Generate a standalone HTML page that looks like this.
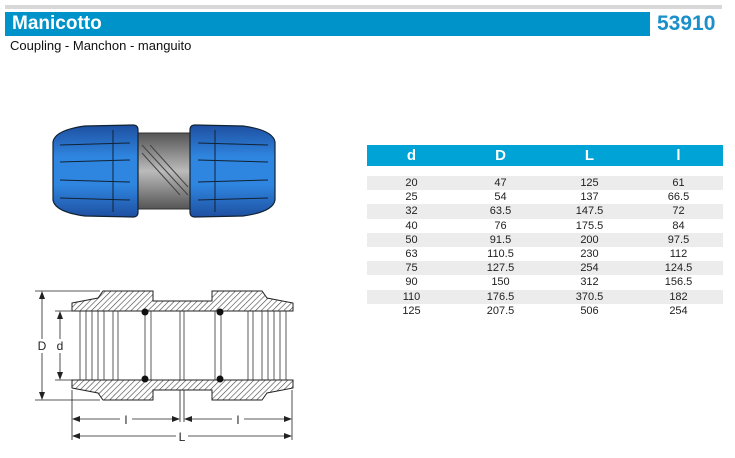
<!DOCTYPE html>
<html><head><style>
body{margin:0;width:735px;height:458px;background:#fff;font-family:"Liberation Sans",sans-serif;position:relative;overflow:hidden}
.a{position:absolute}
table{border-collapse:collapse;font-size:11px;color:#222}
td{width:89px;text-align:center;height:14.2px;padding:0;line-height:14px}
tr.g td{background:#ececec}
</style></head><body>
<div class="a" style="left:5px;top:5px;width:717px;height:4px;background:#d8d8d8"></div>
<div class="a" style="left:5px;top:12px;width:645px;height:24px;background:#0093c9"></div>
<div class="a" style="left:12px;top:13px;color:#fff;font-weight:bold;font-size:19px">Manicotto</div>
<div class="a" style="left:657px;top:12px;color:#1a8fc9;font-weight:bold;font-size:21px">53910</div>
<div class="a" style="left:10px;top:38px;font-size:13px;color:#111">Coupling - Manchon - manguito</div>

<div class="a" style="left:367px;top:145px;width:356px;height:21px;background:#00a3d6"></div>
<table class="a" style="left:367px;top:145px;width:356px">
<tr><td style="height:21px;color:#fff;font-weight:bold;font-size:15px">d</td><td style="color:#fff;font-weight:bold;font-size:15px">D</td><td style="color:#fff;font-weight:bold;font-size:15px">L</td><td style="color:#fff;font-weight:bold;font-size:15px">l</td></tr>
<tr><td style="height:10px" colspan="4"></td></tr>
<tr class="g"><td>20</td><td>47</td><td>125</td><td>61</td></tr>
<tr><td>25</td><td>54</td><td>137</td><td>66.5</td></tr>
<tr class="g"><td>32</td><td>63.5</td><td>147.5</td><td>72</td></tr>
<tr><td>40</td><td>76</td><td>175.5</td><td>84</td></tr>
<tr class="g"><td>50</td><td>91.5</td><td>200</td><td>97.5</td></tr>
<tr><td>63</td><td>110.5</td><td>230</td><td>112</td></tr>
<tr class="g"><td>75</td><td>127.5</td><td>254</td><td>124.5</td></tr>
<tr><td>90</td><td>150</td><td>312</td><td>156.5</td></tr>
<tr class="g"><td>110</td><td>176.5</td><td>370.5</td><td>182</td></tr>
<tr><td>125</td><td>207.5</td><td>506</td><td>254</td></tr>
</table>

<svg class="a" style="left:0;top:0" width="735" height="458">
<defs>
<linearGradient id="bl" x1="0" y1="0" x2="0" y2="1"><stop offset="0" stop-color="#1e4fa0"/><stop offset=".35" stop-color="#2f86e0"/><stop offset=".65" stop-color="#2f86e0"/><stop offset="1" stop-color="#1e4fa0"/></linearGradient>
<linearGradient id="gr" x1="0" y1="0" x2="0" y2="1"><stop offset="0" stop-color="#555"/><stop offset=".5" stop-color="#bbb"/><stop offset="1" stop-color="#555"/></linearGradient>
<pattern id="h" width="4" height="4" patternUnits="userSpaceOnUse" patternTransform="rotate(45)"><rect width="4" height="4" fill="#fff"/><line x1="0" y1="0" x2="0" y2="4" stroke="#444" stroke-width="1.2"/></pattern>
</defs>
<!-- photo -->
<rect x="135" y="133" width="60" height="76" fill="url(#gr)" stroke="#333"/>
<path d="M142 145 L188 195 M142 153 L180 195 M150 145 L188 187" stroke="#444" fill="none"/>
<path d="M53 142 Q55 130 85 126 L133 125 Q138 125 138 130 L138 212 Q138 217 133 217 L85 216 Q55 212 53 200 Z" fill="url(#bl)" stroke="#123" stroke-width="1.2"/>
<path d="M275 142 Q273 130 243 126 L195 125 Q190 125 190 130 L190 212 Q190 217 195 217 L243 216 Q273 212 275 200 Z" fill="url(#bl)" stroke="#123" stroke-width="1.2"/>
<g stroke="#123" fill="none" stroke-width="1">
<path d="M60 145 L130 143 M60 162 L130 160 M60 180 L130 182 M60 198 L130 200 M113 130 L113 212"/>
<path d="M268 145 L198 143 M268 162 L198 160 M268 180 L198 182 M268 198 L198 200 M215 130 L215 212"/>
</g>
<!-- drawing -->
<g stroke="#222" stroke-width="1" fill="url(#h)">
<path d="M72 303 L98 298 L103 291 L153 291 L153 301 L212 301 L212 291 L262 291 L267 298 L293 303 L293 311 L72 311 Z"/>
<path d="M72 388 L98 393 L103 400 L153 400 L153 390 L212 390 L212 400 L262 400 L267 393 L293 388 L293 380 L72 380 Z"/>
</g>
<g stroke="#333" fill="none" stroke-width="0.8">
<path d="M80 311 V380 M86 311 V380 M92 311 V380 M98 311 V380 M104 311 V380 M113 311 V380 M118 311 V380 M145 311 V380 M151 311 V380 M180 311 V380 M184 311 V380"/>
<path d="M286 311 V380 M280 311 V380 M274 311 V380 M268 311 V380 M262 311 V380 M253 311 V380 M248 311 V380 M221 311 V380 M215 311 V380"/>
</g>
<circle cx="145" cy="312" r="3.5" fill="#111"/><circle cx="145" cy="379" r="3.5" fill="#111"/>
<circle cx="220" cy="312" r="3.5" fill="#111"/><circle cx="220" cy="379" r="3.5" fill="#111"/>
<g stroke="#222" stroke-width="0.8">
<line x1="35" y1="291" x2="100" y2="291"/><line x1="35" y1="400" x2="100" y2="400"/>
<line x1="42" y1="293" x2="42" y2="398"/>
<line x1="55" y1="311" x2="80" y2="311"/><line x1="55" y1="380" x2="80" y2="380"/>
<line x1="60" y1="313" x2="60" y2="378"/>
<line x1="72" y1="390" x2="72" y2="440"/><line x1="292" y1="390" x2="292" y2="440"/>
<line x1="180" y1="390" x2="180" y2="422"/><line x1="184" y1="390" x2="184" y2="422"/>
<line x1="74" y1="419" x2="178" y2="419"/><line x1="186" y1="419" x2="290" y2="419"/>
<line x1="74" y1="436" x2="290" y2="436"/>
</g>
<g fill="#222">
<path d="M42 291 l-3 8 h6z M42 400 l-3 -8 h6z M60 311 l-3 8 h6z M60 380 l-3 -8 h6z"/>
<path d="M72 419 l8 -3 v6z M180 419 l-8 -3 v6z M184 419 l8 -3 v6z M292 419 l-8 -3 v6z M72 436 l8 -3 v6z M292 436 l-8 -3 v6z"/>
</g>
<g font-family="Liberation Sans" font-size="12" fill="#222" text-anchor="middle">
<rect x="36" y="339" width="12" height="14" fill="#fff"/><text x="42" y="350">D</text>
<rect x="55" y="339" width="10" height="14" fill="#fff"/><text x="60" y="350">d</text>
<rect x="120" y="412" width="12" height="14" fill="#fff"/><text x="126" y="424">l</text>
<rect x="232" y="412" width="12" height="14" fill="#fff"/><text x="238" y="424">l</text>
<rect x="176" y="429" width="12" height="14" fill="#fff"/><text x="182" y="441">L</text>
</g>
</svg>
</body></html>
